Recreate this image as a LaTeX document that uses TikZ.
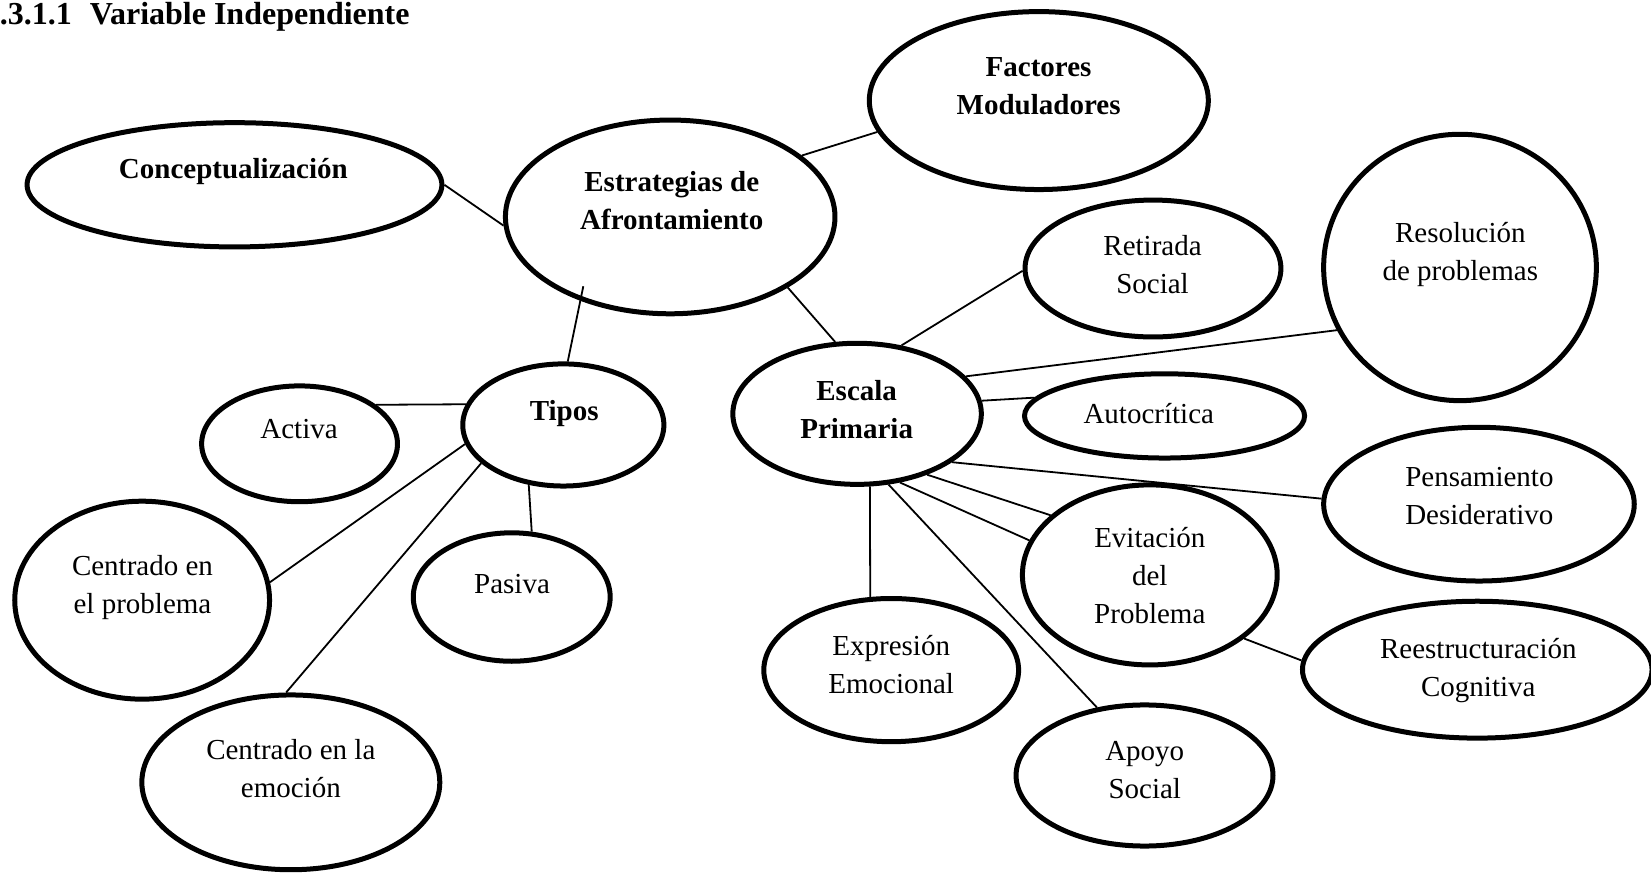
\documentclass[tikz,border=0pt]{standalone}
\usepackage{fontspec}
\setmainfont{Liberation Serif}
\usetikzlibrary{shapes.geometric}
\newcommand{\myU}{0.52647pt}
\newcommand{\mystrut}{\rule[-5.7pt]{0pt}{19pt}}
\begin{document}
\begin{tikzpicture}[x=0.52647pt, y=-0.52647pt,
  ell/.style 2 args={draw, ellipse, line width=2.5pt, inner sep=0pt,
    minimum width=#1*\myU, minimum height=#2*\myU},
  lbl/.style={font=\fontsize{14.5}{19}\selectfont, align=center, inner sep=0pt},
  blbl/.style={lbl, font=\fontsize{14.5}{19}\selectfont\bfseries},
  conn/.style={line width=0.9pt}]
\useasboundingbox (0,0) rectangle (1568,829);

% title
\node[font=\fontsize{16}{19}\selectfont\bfseries, anchor=base west, inner sep=0pt]
  (title) at (-0.5,23.7) {.3.1.1\hspace{9pt}Variable Independiente};

% ellipses
\node[ell={394}{118}] (conc)   at (222.7,175.5) {};
\node[ell={313}{184}] (estr)   at (636.5,206) {};
\node[ell={322}{169}] (fact)   at (986.6,95.5) {};
\node[ell={191}{116}] (tipos)  at (535,403.6) {};
\node[ell={236}{134}] (escala) at (814,393) {};
\node[ell={186}{110}] (activa) at (284.5,421.5) {};
\node[ell={242}{188}] (cp)     at (135,570) {};
\node[ell={187}{122}] (pasiva) at (486,567) {};
\node[ell={283}{166}] (ce)     at (276.2,743) {};
\node[ell={243}{130}] (ret)    at (1095,255) {};
\node[ell={259}{253}] (res)    at (1386.6,254) {};
\node[ell={266}{80}]  (auto)   at (1106,395) {};
\node[ell={295}{146}] (pens)   at (1404.6,478.8) {};
\node[ell={242}{171}] (evit)   at (1092,546) {};
\node[ell={332}{130}] (reest)  at (1403,636) {};
\node[ell={242}{136}] (expr)   at (846.4,636.4) {};
\node[ell={244}{134}] (apoyo)  at (1087,736.5) {};

% texts
\node[blbl] (tconc)   at (221.6,162.2) {\mystrut Conceptualización};
\node[blbl] (testr)   at (638,193) {\mystrut Estrategias de\\\mystrut Afrontamiento};
\node[blbl] (tfact)   at (986.4,83.5) {\mystrut Factores\\\mystrut Moduladores};
\node[blbl] (ttipos)  at (535.8,391.7) {\mystrut Tipos};
\node[blbl] (tescala) at (813.6,390.8) {\mystrut Escala\\\mystrut Primaria};
\node[lbl] (tactiva)  at (284,409.1) {\mystrut Activa};
\node[lbl] (tcp)      at (135.3,557.8) {\mystrut Centrado en\\\mystrut el problema};
\node[lbl] (tpasiva)  at (486.3,556.3) {\mystrut Pasiva};
\node[lbl] (tce)      at (276.2,731.8) {\mystrut Centrado en la\\\mystrut emoción};
\node[lbl] (tret)     at (1094.6,253.5) {\mystrut Retirada\\\mystrut Social};
\node[lbl] (tres)     at (1386.9,240.8) {\mystrut Resolución\\\mystrut de problemas};
\node[lbl] (tauto)    at (1091,395.2) {\mystrut Autocrítica};
\node[lbl] (tpens)    at (1405,472.5) {\mystrut Pensamiento\\\mystrut Desiderativo};
\node[lbl] (tevit)    at (1092,548.4) {\mystrut Evitación\\\mystrut del\\\mystrut Problema};
\node[lbl] (treest)   at (1404,636.3) {\mystrut Reestructuración\\\mystrut Cognitiva};
\node[lbl] (texpr)    at (846.4,633) {\mystrut Expresión\\\mystrut Emocional};
\node[lbl] (tapoyo)   at (1087.2,732.8) {\mystrut Apoyo\\\mystrut Social};

% connectors
\draw[conn] (conc.0) -- (estr.183.3);
\draw[conn] (estr.25.8) -- (fact.191.3);
\draw[conn, shorten >=-7.4pt] (tipos.86.5) -- (estr.223.6);
\draw[conn] (estr.329.4) -- (escala.107);
\draw[conn] (escala.57.1) -- (ret.181);
\draw[conn] (escala.19.1) -- (res.207);
\draw[conn] (escala.6.66) -- (auto.172.8);
\draw[conn] (escala.333.9) -- (pens.178.6);
\draw[conn] (escala.319.9) -- (evit.149.4);
\draw[conn] (escala.302) -- (evit.164.8);
\draw[conn] (escala.280.46) -- (expr.106.69);
\draw[conn] (escala.294.3) -- (apoyo.125.3);
\draw[conn] (evit.326.3) -- (reest.177.9);
\draw[conn] (tipos.168.79) -- (activa.27);
\draw[conn] (tipos.191.5) -- (cp.8.9);
\draw[conn] (tipos.205.2) -- (ce.93.7);
\draw[conn] (tipos.240.53) -- (pasiva.73.26);
\end{tikzpicture}
\end{document}
